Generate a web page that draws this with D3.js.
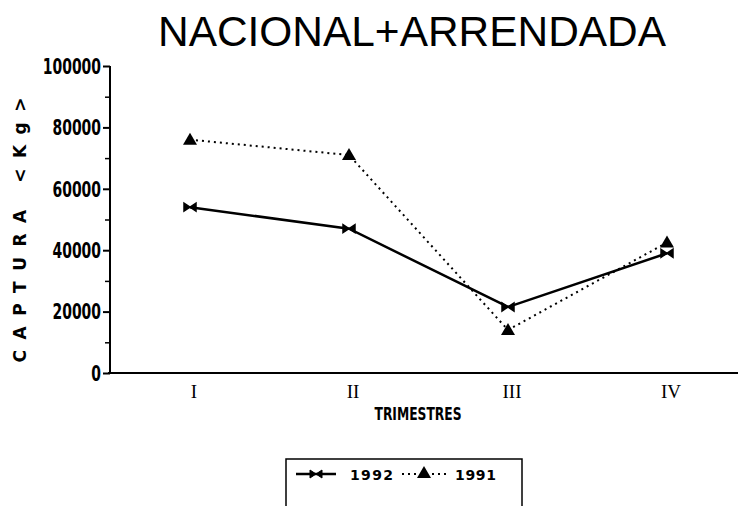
<!DOCTYPE html>
<html>
<head>
<meta charset="utf-8">
<script src="https://cdn.jsdelivr.net/npm/d3@7"></script>
<style>
  body { margin: 0; background: #fff; }
  svg { display: block; }
  .tick text { font-family: "DejaVu Sans Condensed", "DejaVu Sans", sans-serif; font-weight: bold; }
</style>
</head>
<body>
<div id="canvas"></div>
<script>
// trimestres y captura (kg)
const trimestres = ["I", "II", "III", "IV"];
const capt1992 = [54000, 47000, 21500, 39000];
const capt1991 = [76000, 71000, 14000, 42500];
const yTicks = [0, 20000, 40000, 60000, 80000, 100000];
const yMinor = [10000, 30000, 50000, 70000, 90000];

const width = 746;
const height = 506;

const svg = d3.select("#canvas").append("svg")
    .attr("width", width)
    .attr("height", height);

const x = d3.scalePoint()
    .domain(trimestres)
    .range([190, 667]);

const y = d3.scaleLinear()
    .domain([0, 100000])
    .range([373, 66]);

// titulo
svg.append("text")
    .attr("x", 412)
    .attr("y", 46)
    .attr("text-anchor", "middle")
    .attr("textLength", 508)
    .attr("lengthAdjust", "spacingAndGlyphs")
    .style("font-family", "Liberation Sans, Arial, sans-serif")
    .style("font-size", "42px")
    .text("NACIONAL+ARRENDADA");

// eje y
const yAxis = svg.append("g")
    .attr("transform", "translate(110,0)")
    .call(d3.axisLeft(y).tickValues(yTicks).tickSize(7).tickPadding(2).tickFormat(d3.format("d")));
yAxis.select(".domain").attr("stroke-width", 2).attr("d", `M0,${y(100000)}V${y(0)}`);
yAxis.selectAll(".tick line").attr("stroke-width", 2);
yAxis.selectAll(".tick text")
    .style("font-size", "21px")
    .attr("dy", "0.35em")
    .attr("textLength", d => String(d).length * 9.7)
    .attr("lengthAdjust", "spacingAndGlyphs");

svg.append("g")
    .attr("transform", "translate(110,0)")
    .call(d3.axisLeft(y).tickValues(yMinor).tickSize(5).tickFormat(""))
    .call(g => g.select(".domain").remove())
    .selectAll(".tick line").attr("stroke-width", 1.5);

// eje x
svg.append("line")
    .attr("x1", 108).attr("x2", 738)
    .attr("y1", y(0)).attr("y2", y(0))
    .attr("stroke", "#000")
    .attr("stroke-width", 2);

svg.append("g")
    .selectAll("text")
    .data(trimestres)
    .join("text")
    .attr("x", d => x(d) + 4)
    .attr("y", 398)
    .attr("text-anchor", "middle")
    .style("font-family", "Liberation Serif, serif")
    .style("font-size", "19px")
    .text(d => d);

svg.append("text")
    .attr("x", 418)
    .attr("y", 420)
    .attr("text-anchor", "middle")
    .attr("textLength", 87)
    .attr("lengthAdjust", "spacingAndGlyphs")
    .style("font-family", "DejaVu Sans Condensed, sans-serif")
    .style("font-weight", "bold")
    .style("font-size", "17px")
    .text("TRIMESTRES");

svg.append("text")
    .attr("transform", "translate(26,230) rotate(-90)")
    .attr("text-anchor", "middle")
    .attr("textLength", 265)
    .attr("lengthAdjust", "spacing")
    .style("font-family", "DejaVu Sans, sans-serif")
    .style("font-weight", "bold")
    .style("font-size", "17px")
    .text("CAPTURA  <Kg>");

// series
const line = d3.line()
    .x((d, i) => x(trimestres[i]))
    .y(d => y(d));

svg.append("path")
    .datum(capt1991)
    .attr("d", line)
    .attr("fill", "none")
    .attr("stroke", "#000")
    .attr("stroke-width", 2)
    .attr("stroke-dasharray", "2,4");

svg.append("path")
    .datum(capt1992)
    .attr("d", line)
    .attr("fill", "none")
    .attr("stroke", "#000")
    .attr("stroke-width", 2.5);

const bowtie = "M-6,-4L6,4V-4L-6,4Z";
const triangle = "M0,-7L7,5H-7Z";

svg.append("g")
    .selectAll("path")
    .data(capt1992)
    .join("path")
    .attr("transform", (d, i) => `translate(${x(trimestres[i])},${y(d)})`)
    .attr("d", bowtie)
    .attr("fill", "#000")
    .attr("stroke", "#000")
    .attr("stroke-width", 1.5);

svg.append("g")
    .selectAll("path")
    .data(capt1991)
    .join("path")
    .attr("transform", (d, i) => `translate(${x(trimestres[i])},${y(d)})`)
    .attr("d", triangle)
    .attr("fill", "#000");

// leyenda
const leg = svg.append("g");
leg.append("rect")
    .attr("x", 286).attr("y", 459)
    .attr("width", 236).attr("height", 60)
    .attr("fill", "none")
    .attr("stroke", "#000")
    .attr("stroke-width", 1.5);

const ly = 474;
leg.append("line")
    .attr("x1", 296).attr("x2", 336).attr("y1", ly).attr("y2", ly)
    .attr("stroke", "#000").attr("stroke-width", 2.5);
leg.append("path")
    .attr("transform", `translate(316,${ly})`)
    .attr("d", bowtie).attr("fill", "#000").attr("stroke", "#000");
leg.append("text")
    .attr("x", 350).attr("y", ly + 6)
    .attr("textLength", 43)
    .style("font-family", "DejaVu Sans, sans-serif")
    .style("font-weight", "bold")
    .style("font-size", "14px")
    .text("1992");

leg.append("line")
    .attr("x1", 402).attr("x2", 446).attr("y1", ly).attr("y2", ly)
    .attr("stroke", "#000").attr("stroke-width", 2)
    .attr("stroke-dasharray", "2,4");
leg.append("path")
    .attr("transform", `translate(424,${ly - 1})`)
    .attr("d", triangle).attr("fill", "#000");
leg.append("text")
    .attr("x", 455).attr("y", ly + 6)
    .attr("textLength", 41)
    .style("font-family", "DejaVu Sans, sans-serif")
    .style("font-weight", "bold")
    .style("font-size", "14px")
    .text("1991");
</script>
</body>
</html>
